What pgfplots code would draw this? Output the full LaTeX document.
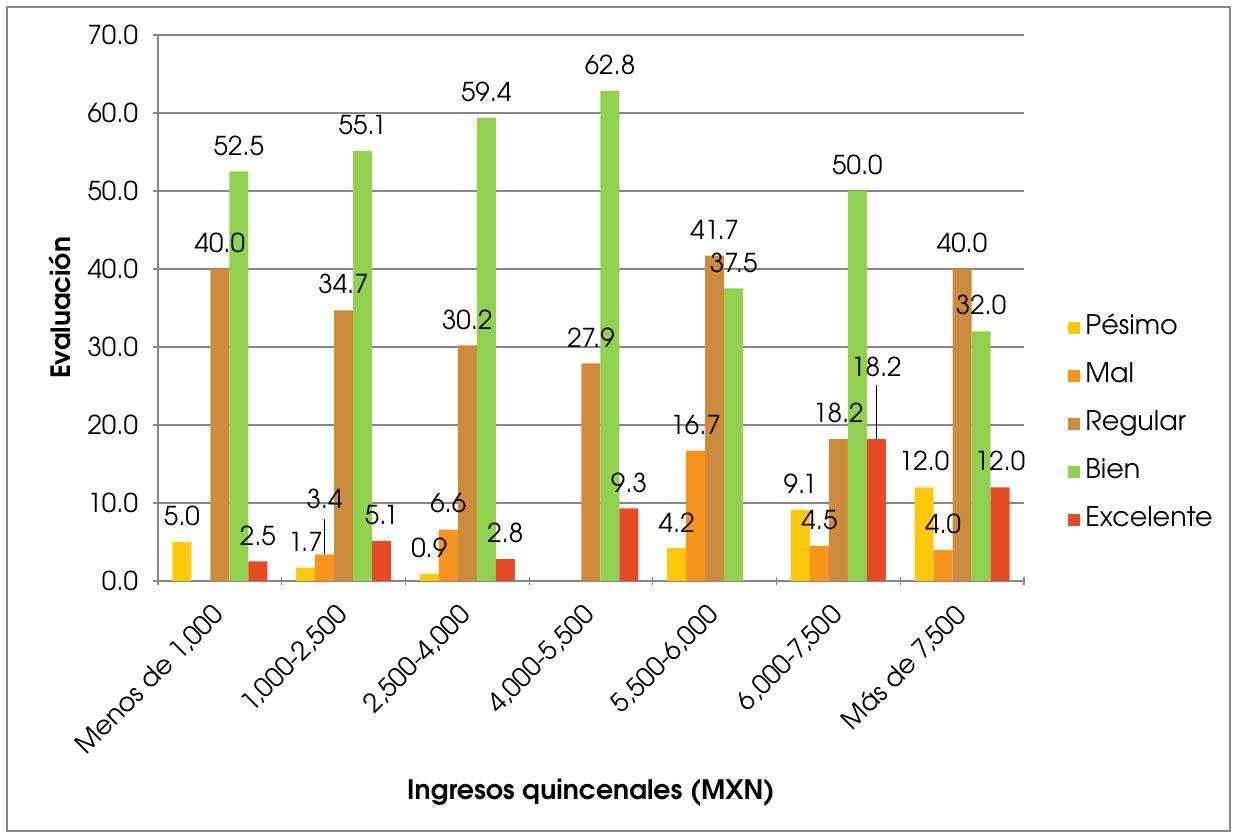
\documentclass[border=0pt]{standalone}
\usepackage{fontspec}
\setmainfont{texgyreadventor}[Extension=.otf, UprightFont=*-regular, BoldFont=*-bold, ItalicFont=*-italic, BoldItalicFont=*-bolditalic]
\usepackage{pgfplots}
\usepackage{pgfplotstable}
\pgfplotsset{compat=1.18}

\definecolor{cpes}{HTML}{FFC80A}
\definecolor{cmal}{HTML}{F7941E}
\definecolor{creg}{HTML}{CD8B3E}
\definecolor{cbie}{HTML}{92D050}
\definecolor{cexc}{HTML}{E44B26}
\definecolor{gridgray}{HTML}{878787}

\newcommand\lbl{\fontsize{13}{15}\selectfont}

\pgfplotsset{sqlegend/.style={legend image code/.code={\fill[##1] (0pt,-3pt) rectangle (6pt,3pt);}}}

% x = category, y = value, dy = label centre above bar top (pt)
\pgfplotstableread{
x y dy
0 5.0 13
1 1.7 13
2 0.9 13
4 4.2 13
5 9.1 13
6 12.0 13
}\pesimo
\pgfplotstableread{
x y dy
1 3.4 27.7
2 6.6 13
4 16.7 13
5 4.5 13
6 4.0 13
}\mal
\pgfplotstableread{
x y dy
0 40.0 13
1 34.7 13
2 30.2 13
3 27.9 13
4 41.7 13
5 18.2 13
6 40.0 13
}\regular
\pgfplotstableread{
x y dy
0 52.5 13
1 55.1 13
2 59.4 13
3 62.8 13
4 37.5 13
5 50.0 13
6 32.0 13
}\bien
\pgfplotstableread{
x y dy
0 2.5 13
1 5.1 13
2 2.8 13
3 9.3 13
5 18.2 36.3
6 12.0 13
}\excelente

\begin{document}
\begin{tikzpicture}
\begin{axis}[
    scale only axis,
    width=433pt, height=273pt,
    ybar=0pt, bar width=9.5pt,
    xmin=-0.5, xmax=6.5, ymin=0, ymax=70,
    ytick={0,10,...,70},
    xtick={0,...,6},
    xticklabels={{Menos de 1,000},{1,000-2,500},{2,500-4,000},{4,000-5,500},{5,500-6,000},{6,000-7,500},{Más de 7,500}},
    minor xtick={-0.5,0.5,...,6.5},
    major x tick style={draw=none},
    tick align=outside,
    major tick length=5pt, minor tick length=4pt,
    axis lines=left,
    axis line style={draw=gridgray, line width=0.6pt, -},
    tick style={draw=gridgray, line width=0.6pt},
    ymajorgrids,
    major grid style={draw=gridgray, line width=0.6pt},
    /pgf/number format/assume math mode=true,
    tick label style={font=\lbl},
    yticklabel style={xshift=-4pt, /pgf/number format/.cd, fixed, fixed zerofill, precision=1},
    xticklabel style={xshift=-4.5pt, yshift=-3.5pt, rotate=45, anchor=north east},
    nodes near coords={\pgfmathprintnumber[fixed,fixed zerofill,precision=1]{\pgfplotspointmeta}},
    visualization depends on={\thisrow{dy}\as\labdy},
    every node near coord/.append style={font=\lbl, anchor=center, yshift=\labdy pt},
    clip=false,
    legend style={at={(axis description cs:1,0.2875)}, anchor=west, xshift=19pt,
        draw=none, fill=none, font=\fontsize{13.5}{15}\selectfont, row sep=12pt,
        nodes={text height=9pt, text depth=3pt, inner sep=0pt},
        /tikz/every odd column/.append style={column sep=2.5pt}},
    legend cell align=left,
]
\addplot[fill=cpes, draw=none, sqlegend] table[x=x, y=y] {\pesimo};
\addplot[fill=cmal, draw=none, sqlegend] table[x=x, y=y] {\mal};
\addplot[fill=creg, draw=none, sqlegend] table[x=x, y=y] {\regular};
\addplot[fill=cbie, draw=none, sqlegend] table[x=x, y=y] {\bien};
\addplot[fill=cexc, draw=none, sqlegend] table[x=x, y=y] {\excelente};
\legend{Pésimo, Mal, Regular, Bien, Excelente}

% leader lines of the moved labels
\draw[black, line width=0.6pt] ([xshift=-9.5pt]axis cs:1,3.4) -- ([xshift=-9.5pt]axis cs:1,8.0);
\draw[black, line width=0.6pt] ([xshift=19pt]axis cs:5,18.2) -- ([xshift=19pt]axis cs:5,25.1);

\node[font=\fontsize{13.3}{15}\selectfont\bfseries, rotate=90] at ([xshift=-49pt]rel axis cs:0,0.5) {Evaluación};
\node[font=\fontsize{13.4}{15}\selectfont\bfseries] at ([yshift=-106pt]rel axis cs:0.5,0) {Ingresos quincenales (MXN)};

% chart area frame
\path ([xshift=-79pt,yshift=-126pt]rel axis cs:0,0) rectangle ([xshift=537.5pt,yshift=17.5pt]rel axis cs:0,1);
\draw[gridgray, line width=0.8pt] ([xshift=-75.5pt,yshift=-125pt]rel axis cs:0,0) rectangle ([xshift=536pt,yshift=14pt]rel axis cs:0,1);
\end{axis}
\end{tikzpicture}
\end{document}
